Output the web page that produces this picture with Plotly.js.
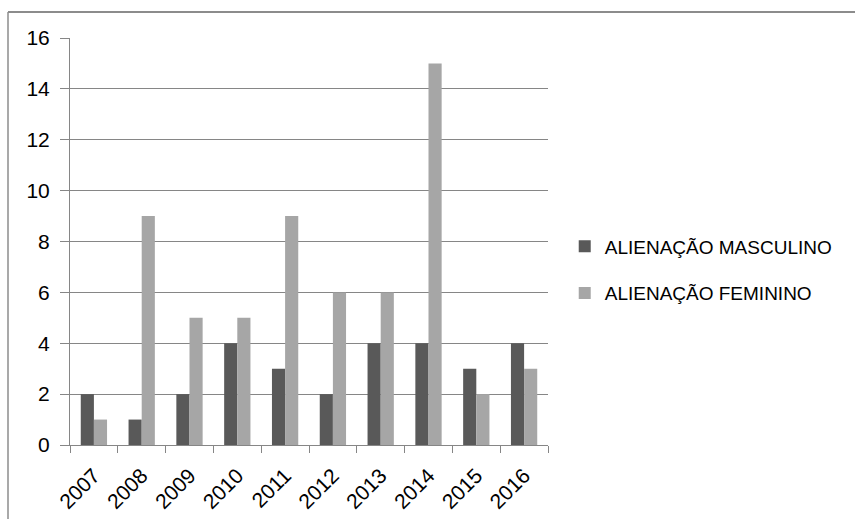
<!DOCTYPE html>
<html>
<head>
<meta charset="utf-8">
<script src="https://cdn.plot.ly/plotly-3.0.1.min.js"></script>
<style>
  html, body { margin: 0; padding: 0; background: #fff; }
  #chart { width: 855px; height: 519px; }
</style>
</head>
<body>
<div id="chart"></div>
<script>
// Casos por ano, 2007–2016
const years = ['2007', '2008', '2009', '2010', '2011', '2012', '2013', '2014', '2015', '2016'];
const masculino = [2, 1, 2, 4, 3, 2, 4, 4, 3, 4];
const feminino = [1, 9, 5, 5, 9, 6, 6, 15, 2, 3];
const seriesNames = ['ALIENAÇÃO MASCULINO', 'ALIENAÇÃO FEMININO'];
const yTicks = [0, 2, 4, 6, 8, 10, 12, 14, 16];

const gridGray = '#868686';
const frameGray = '#8c8c8c';
const fontFamily = 'Liberation Sans, Arial, sans-serif';

const traces = [
  {
    type: 'bar', name: seriesNames[0], x: years, y: masculino,
    marker: { color: '#595959', line: { width: 0 } },
    legendgroup: 'm', hoverinfo: 'x+y'
  },
  {
    type: 'bar', name: seriesNames[1], x: years, y: feminino,
    marker: { color: '#a6a6a6', line: { width: 0 } },
    legendgroup: 'f', hoverinfo: 'x+y'
  }
];

const layout = {
  width: 855, height: 519,
  margin: { l: 70, r: 307, t: 38, b: 74, pad: 0 },
  paper_bgcolor: '#fff', plot_bgcolor: '#fff',
  font: { family: fontFamily, size: 21, color: '#000' },
  barmode: 'group', bargap: 0.45, bargroupgap: 0,
  xaxis: {
    type: 'category',
    tickson: 'boundaries',
    ticks: 'outside', ticklen: 7, tickcolor: gridGray, tickwidth: 1,
    tickangle: -45,
    ticklabelstandoff: 9,
    showline: true, linecolor: gridGray, linewidth: 1,
    showgrid: false, zeroline: false,
    tickfont: { family: fontFamily, size: 21, color: '#000' }
  },
  yaxis: {
    range: [0, 16], tickvals: yTicks, ticktext: yTicks.map(String),
    ticks: 'outside', ticklen: 9, tickcolor: gridGray, tickwidth: 1,
    ticklabelstandoff: 6,
    showline: true, linecolor: gridGray, linewidth: 1,
    showgrid: true, gridcolor: gridGray, gridwidth: 1,
    zeroline: false,
    tickfont: { family: fontFamily, size: 21, color: '#000' }
  },
  legend: {
    x: 1.035, y: 0.43, xanchor: 'left', yanchor: 'middle',
    font: { family: fontFamily, size: 19, color: '#000' },
    traceorder: 'grouped', tracegroupgap: 19,
    bgcolor: 'rgba(0,0,0,0)', borderwidth: 0
  },
  shapes: [
    // moldura do gráfico (topo e lateral esquerda)
    { type: 'line', xref: 'paper', yref: 'paper', x0: -0.1297, x1: 1.7, y0: 1.0639, y1: 1.0639,
      line: { color: frameGray, width: 2 } },
    { type: 'line', xref: 'paper', yref: 'paper', x0: -0.1297, x1: -0.1297, y0: 1.0639, y1: -0.2,
      line: { color: frameGray, width: 1.5 } }
  ]
};

Plotly.newPlot('chart', traces, layout, { displayModeBar: false, staticPlot: true });
</script>
</body>
</html>
